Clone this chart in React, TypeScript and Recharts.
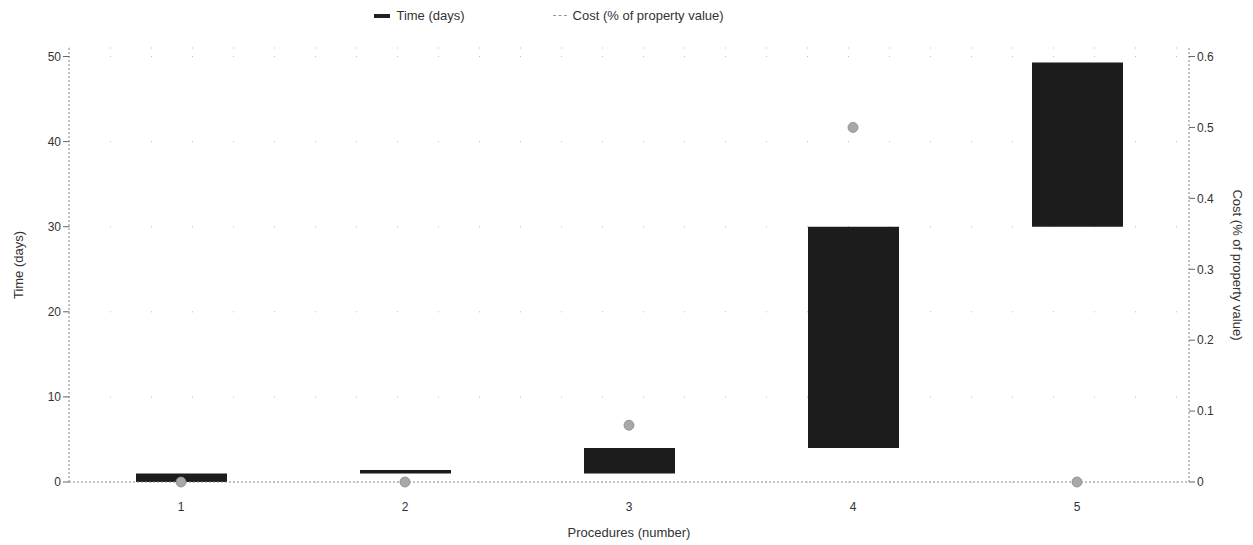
import {
  Bar,
  CartesianGrid,
  ComposedChart,
  Label,
  Legend,
  Scatter,
  XAxis,
  YAxis,
} from "recharts";

// Procedure number along the x axis.
const procedures = ["1", "2", "3", "4", "5"];
// Cumulative time span (days) each procedure occupies: [start, end].
const timeStart = [0, 1, 1, 4, 30];
const timeEnd = [1, 1.4, 4, 30, 49.3];
// Cost per procedure, % of property value.
const costPct = [0, 0, 0.08, 0.5, 0];

const timeTicks = [0, 10, 20, 30, 40, 50];
const costTicks = [0, 0.1, 0.2, 0.3, 0.4, 0.5, 0.6];

const rows = procedures.map((p, i) => ({
  p,
  time: [timeStart[i], timeEnd[i]],
  cost: costPct[i],
}));

const FONT = "'Liberation Sans', Arial, sans-serif";
const tick = { fontSize: 12, fill: "#333", fontFamily: FONT };
const axisLine = { stroke: "#888", strokeDasharray: "2 2" };

function LegendBox() {
  return (
    <div
      style={{
        display: "flex",
        justifyContent: "center",
        gap: 88,
        paddingRight: 160,
        fontFamily: FONT,
        fontSize: 13,
        color: "#333",
      }}
    >
      <span style={{ display: "flex", alignItems: "center", gap: 6 }}>
        <span style={{ width: 16, height: 4, background: "#222", display: "inline-block" }} />
        Time (days)
      </span>
      <span style={{ display: "flex", alignItems: "center", gap: 6 }}>
        <span style={{ width: 14, borderTop: "1px dashed #999", display: "inline-block" }} />
        Cost (% of property value)
      </span>
    </div>
  );
}

export default function App() {
  return (
    <div style={{ position: "absolute", left: 0, top: 0, background: "#fff" }}>
      <ComposedChart
        width={1253}
        height={545}
        data={rows}
        margin={{ top: 33, right: 19, left: 24, bottom: 25 }}
      >
        <CartesianGrid
          yAxisId="time"
          vertical={false}
          stroke="#bbb"
          strokeDasharray="1 40"
        />
        <XAxis
          dataKey="p"
          tick={tick}
          tickLine={false}
          tickMargin={14}
          axisLine={axisLine}
          height={38}
        >
          <Label
            value="Procedures (number)"
            position="bottom"
            offset={8}
            style={{ fontSize: 13, fill: "#333", fontFamily: FONT }}
          />
        </XAxis>
        <YAxis
          yAxisId="time"
          domain={[0, 51]}
          ticks={timeTicks}
          tick={tick}
          tickSize={6}
          tickLine={{ stroke: "#666" }}
          axisLine={axisLine}
          width={45}
        >
          <Label
            value="Time (days)"
            angle={-90}
            position="left"
            offset={6}
            style={{ fontSize: 13, fill: "#333", fontFamily: FONT, textAnchor: "middle" }}
          />
        </YAxis>
        <YAxis
          yAxisId="cost"
          orientation="right"
          domain={[0, 0.612]}
          ticks={costTicks}
          tick={tick}
          tickSize={6}
          tickLine={{ stroke: "#666" }}
          axisLine={axisLine}
          width={45}
        >
          <Label
            value="Cost (% of property value)"
            angle={90}
            position="right"
            offset={4}
            style={{ fontSize: 13, fill: "#333", fontFamily: FONT, textAnchor: "middle" }}
          />
        </YAxis>
        <Legend verticalAlign="top" wrapperStyle={{ top: 8 }} content={() => <LegendBox />} />
        <Bar
          yAxisId="time"
          dataKey="time"
          name="Time (days)"
          fill="#1c1c1c"
          barSize={91}
          isAnimationActive={false}
        />
        <Scatter
          yAxisId="cost"
          dataKey="cost"
          name="Cost (% of property value)"
          fill="#a8a8a8"
          shape={(props: { cx?: number; cy?: number }) => (
            <circle cx={props.cx} cy={props.cy} r={5} fill="#a8a8a8" stroke="#888" strokeWidth={0.8} />
          )}
          isAnimationActive={false}
        />
      </ComposedChart>
    </div>
  );
}
